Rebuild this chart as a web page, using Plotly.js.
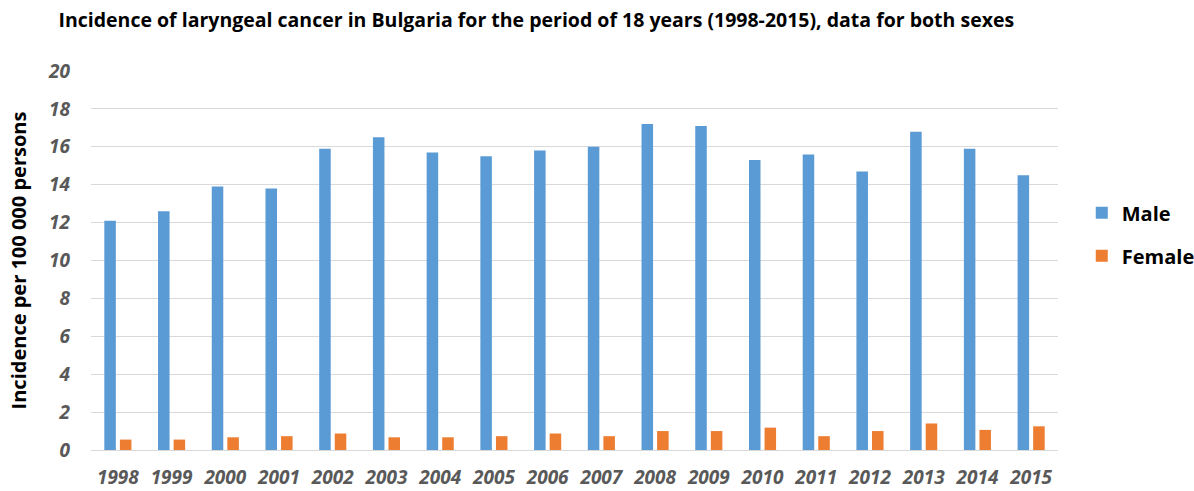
<!DOCTYPE html>
<html>
<head>
<meta charset="utf-8">
<script src="https://cdn.plot.ly/plotly-3.0.1.min.js"></script>
<style>
  html, body { margin: 0; padding: 0; background: #fff; }
  #chart { width: 1194px; height: 491px; }
</style>
</head>
<body>
<div id="chart"></div>
<script>
// Laryngeal cancer incidence per 100 000 persons, Bulgaria 1998-2015
const years = ['1998','1999','2000','2001','2002','2003','2004','2005','2006',
               '2007','2008','2009','2010','2011','2012','2013','2014','2015'];
const male   = [12.1, 12.6, 13.9, 13.8, 15.9, 16.5, 15.7, 15.5, 15.8,
                16.0, 17.2, 17.1, 15.3, 15.6, 14.7, 16.8, 15.9, 14.5];
const female = [0.55, 0.55, 0.67, 0.73, 0.87, 0.67, 0.67, 0.73, 0.87,
                0.73, 1.0, 1.0, 1.18, 0.73, 1.0, 1.4, 1.06, 1.25];
const yTicks = [0, 2, 4, 6, 8, 10, 12, 14, 16, 18, 20];

const FONT = '"Open Sans", "Noto Sans", sans-serif';

const traces = [
  { type: 'bar', name: 'Male', x: years, y: male, legendgroup: 'm',
    marker: { color: '#5B9BD5' }, hoverinfo: 'x+y' },
  { type: 'bar', name: 'Female', x: years, y: female, legendgroup: 'f',
    marker: { color: '#ED7D31' }, hoverinfo: 'x+y' }
];

const layout = {
  width: 1194, height: 491,
  margin: { l: 91, r: 136, t: 71, b: 41, pad: 0, autoexpand: false },
  paper_bgcolor: '#fff', plot_bgcolor: '#fff',
  barmode: 'group', bargap: 0.42, bargroupgap: 0.26,
  showlegend: true,
  title: {
    text: '<b>Incidence of laryngeal cancer in Bulgaria for the period of 18 years (1998-2015), data for both sexes</b>',
    font: { family: FONT, size: 19.5, color: '#000' },
    x: 0.049, xanchor: 'left', y: 0.958, yanchor: 'middle'
  },
  legend: {
    xref: 'container', yref: 'container',
    x: 0.906, xanchor: 'left', y: 0.523, yanchor: 'middle',
    font: { family: FONT, size: 20, color: '#000', weight: 'bold' },
    itemwidth: 30, traceorder: 'grouped', tracegroupgap: 14
  },
  xaxis: {
    type: 'category', showgrid: false, zeroline: false, showline: false,
    ticks: '', ticklabelstandoff: 14,
    tickfont: { family: FONT, size: 19, color: '#595959', style: 'italic', weight: 'bold' }
  },
  yaxis: {
    range: [0, 20], tickvals: yTicks, ticktext: yTicks.map(String),
    showgrid: true, gridcolor: '#D9D9D9', gridwidth: 1,
    zeroline: true, zerolinecolor: '#D9D9D9', zerolinewidth: 1,
    showline: false, ticks: '', ticklabelstandoff: 20,
    tickfont: { family: FONT, size: 19, color: '#595959', style: 'italic', weight: 'bold' },
    title: {
      text: '<b>Incidence per 100 000 persons</b>',
      font: { family: FONT, size: 20, color: '#000' }, standoff: 16
    }
  }
};

Plotly.newPlot('chart', traces, layout, { displayModeBar: false, staticPlot: true });
</script>
</body>
</html>
